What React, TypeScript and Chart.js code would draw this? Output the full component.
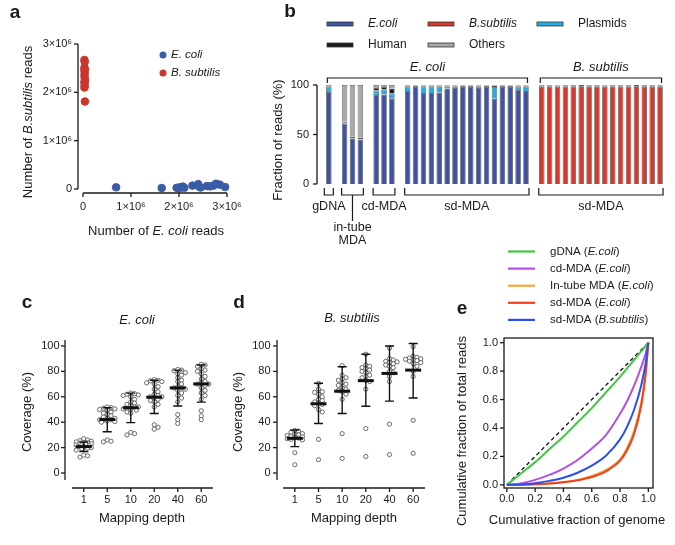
import React, { useEffect, useRef } from 'react';
import { Chart, registerables } from 'chart.js';

Chart.register(...registerables);

const W = 675;
const H = 545;
const FONT = '"Liberation Sans", Arial, Helvetica, sans-serif';
const INK = '#1a1a1a';

/* ---------------- panel a (values in millions of reads) ---------------- */
const aEcoliX = [0.69, 1.64, 1.95, 2.0, 2.02, 2.08, 2.11, 2.28, 2.4, 2.42, 2.45, 2.58, 2.65, 2.72, 2.77, 2.85, 2.96];
const aEcoliY = [0.035, 0.02, 0.025, 0.015, 0.035, 0.05, 0.025, 0.07, 0.1, 0.05, 0.03, 0.06, 0.055, 0.07, 0.11, 0.09, 0.04];
const aBsubX = [0.03, 0.035, 0.03, 0.04, 0.03, 0.035, 0.03, 0.04, 0.035, 0.03, 0.035, 0.03, 0.04];
const aBsubY = [2.67, 2.63, 2.51, 2.47, 2.45, 2.39, 2.33, 2.27, 2.23, 2.2, 2.14, 2.1, 1.81];
const aTickValues = [0, 1, 2, 3];
const aTickLabels = ['0', '1×10⁶', '2×10⁶', '3×10⁶'];

/* ---------------- panel b (percent of reads per library) ---------------- */
const bGroupSizes = [1, 3, 3, 16, 16];
const bGroupLabels = ['gDNA', 'in-tube|MDA', 'cd-MDA', 'sd-MDA', 'sd-MDA'];
const bEcoli = [93, 61, 46, 45, 90, 90.5, 86.5,
  94, 98, 92, 92, 92.5, 96.5, 97, 98, 98, 97, 98, 86, 98, 98, 95, 94,
  0, 0, 0, 0, 0, 0, 0, 0, 0, 0, 0, 0, 0, 0, 0, 0];
const bBsub = [0, 0, 0, 0, 0, 0, 0,
  0, 0, 0, 0, 0, 0, 0, 0, 0, 0, 0, 0, 0, 0, 0, 0,
  98.5, 98.6, 98.4, 98.6, 98.5, 98.7, 98.5, 98.6, 98.4, 98.6, 98.5, 98.6, 98.7, 98.5, 98.6, 98.5];
const bPlasmids = [5.5, 0.8, 0.3, 0.3, 4.5, 5, 5,
  4.5, 0.3, 6.5, 6.5, 6, 2, 1.5, 0.3, 0.3, 1.5, 0.3, 12, 0.3, 0.3, 3.5, 4.5,
  0, 0, 0, 0, 0, 0, 0, 0, 0, 0, 0, 0, 0, 0, 0, 0];
const bHuman = [0.5, 1.2, 1.5, 1.5, 2.5, 2.5, 5,
  1, 1.2, 1, 1, 1, 1, 1, 1.2, 1.2, 1, 1.2, 1.5, 1.2, 1.2, 1, 1,
  1.2, 1.2, 1.2, 1.2, 1.2, 1.2, 1.2, 1.2, 1.2, 1.2, 1.2, 1.2, 1.2, 1.2, 1.2, 1.2];
const bOthers = [1, 37, 52.2, 53.2, 3, 2, 3.5,
  0.5, 0.5, 0.5, 0.5, 0.5, 0.5, 0.5, 0.5, 0.5, 0.5, 0.5, 0.5, 0.5, 0.5, 0.5, 0.5,
  0.3, 0.2, 0.4, 0.2, 0.3, 0.1, 0.3, 0.2, 0.4, 0.2, 0.3, 0.2, 0.1, 0.3, 0.2, 0.3];
const bTickValues = [0, 50, 100];

/* ---------------- panels c, d (coverage %) ---------------- */
const depthLabels = ['1', '5', '10', '20', '40', '60'];
const covTicks = [0, 20, 40, 60, 80, 100];
const cPoints = [
  [27, 26, 25.5, 25, 24.5, 24, 24, 23.5, 23, 22.5, 22, 22, 21.5, 21, 20.5, 20, 19.5, 19, 18, 14, 13.5, 12.5],
  [52, 51.5, 51, 50.5, 50, 49.5, 48, 47, 46, 45, 44, 43, 43, 42, 42, 41.5, 41, 40.5, 40, 26, 25, 24.5],
  [63, 62.5, 62, 61.5, 61, 60, 58, 56, 55, 54, 53, 52, 52, 51, 50.5, 50, 49.5, 48, 47, 32, 31, 30],
  [73.5, 73, 72.5, 72, 71, 70, 68, 66, 64, 62, 61, 60, 60, 59, 58, 57, 56, 54, 52, 38, 36, 34.5],
  [81.5, 81, 80.5, 79, 78, 77, 75, 73, 72, 70, 68, 67, 67, 66, 65, 63, 61, 59, 56, 46, 42, 39],
  [85.5, 85, 84, 82, 81, 80, 78, 76, 74, 72, 71, 70, 70, 69, 67, 65, 63, 61, 58, 49, 45, 42],
];
const cMean = [20.8, 42.1, 51.4, 59.7, 67, 70.1];
const cLow = [16.9, 32.5, 39.7, 46.8, 52.7, 55.8];
const cHigh = [24.4, 51.4, 62.9, 73, 81, 85];
const dPoints = [
  [33.5, 33, 32, 31, 30.5, 30, 29.5, 29, 28.5, 28, 27.5, 27, 26.5, 26, 16, 6.5],
  [70.5, 66, 64, 63.5, 62, 60, 58, 57, 56, 55, 54, 53, 50, 48, 26.5, 10.5],
  [84.5, 77, 75, 74, 73, 71, 70, 69, 67, 66, 65, 64, 62, 58, 31, 11.5],
  [93.5, 85, 84, 83, 82, 81, 80, 79, 77, 76, 75, 73, 72, 66, 35, 13],
  [98.5, 90, 89, 88, 87.5, 87, 86, 85, 84, 83, 80, 79, 76, 72, 38.5, 14.5],
  [99.5, 92, 91, 90.5, 90, 89.5, 89, 88.5, 88, 87, 86, 84, 80, 76, 41.5, 15.5],
];
const dMean = [27.3, 54.5, 64.4, 72.7, 78.4, 81];
const dLow = [20.8, 39, 46.8, 52.5, 56.6, 59];
const dHigh = [33.8, 70.6, 83.6, 93.5, 100, 102];

/* ---------------- panel e (Lorenz curves) ---------------- */
const eX = [0, 0.1, 0.2, 0.3, 0.4, 0.5, 0.6, 0.7, 0.8, 0.85, 0.9, 0.95, 0.98, 1.0];
const eGDNA = [0, 0.08, 0.16, 0.25, 0.34, 0.44, 0.54, 0.65, 0.76, 0.82, 0.88, 0.94, 0.975, 1];
const eCdMDA = [0, 0.01, 0.035, 0.07, 0.115, 0.175, 0.255, 0.35, 0.5, 0.59, 0.7, 0.83, 0.92, 1];
const eInTube = [0, 0.001, 0.004, 0.01, 0.02, 0.035, 0.062, 0.105, 0.18, 0.26, 0.38, 0.58, 0.78, 1];
const eSdEcoli = [0, 0.001, 0.004, 0.009, 0.018, 0.032, 0.055, 0.095, 0.17, 0.245, 0.36, 0.56, 0.77, 1];
const eSdBsub = [0, 0.003, 0.012, 0.028, 0.05, 0.085, 0.135, 0.205, 0.32, 0.41, 0.53, 0.7, 0.85, 1];
const eDiagX = [0, 1];
const eDiagY = [0, 1];
const eTicks = [0, 0.2, 0.4, 0.6, 0.8, 1.0];

/* ---------------- helpers ---------------- */
type Seg = [string, boolean?];
type Align = 'left' | 'center' | 'right';

function rich(ctx: CanvasRenderingContext2D, segs: Seg[], x: number, y: number, size: number,
  align: Align = 'center', rot = 0, bold = false, color = INK) {
  ctx.save();
  ctx.translate(x, y);
  if (rot) ctx.rotate(rot);
  ctx.fillStyle = color;
  ctx.textBaseline = 'middle';
  ctx.textAlign = 'left';
  const fonts = segs.map((s) => `${s[1] ? 'italic ' : ''}${bold ? 'bold ' : ''}${size}px ${FONT}`);
  const widths = segs.map((s, i) => { ctx.font = fonts[i]; return ctx.measureText(s[0]).width; });
  const total = widths.reduce((a, b) => a + b, 0);
  let cx = align === 'center' ? -total / 2 : align === 'right' ? -total : 0;
  segs.forEach((s, i) => { ctx.font = fonts[i]; ctx.fillText(s[0], cx, 0); cx += widths[i]; });
  ctx.restore();
}

type TextItem = { s: Seg[]; x: number; y: number; size: number; align?: Align; rot?: number; bold?: boolean };

function textPlugin(items: TextItem[], extra?: (chart: any) => void) {
  return {
    id: 'texts',
    afterDraw(chart: any) {
      if (extra) extra(chart);
      items.forEach((t) => rich(chart.ctx, t.s, t.x, t.y, t.size, t.align || 'center', t.rot || 0, !!t.bold));
    },
  };
}

type AxisSpec = { gap: number; from: number; to: number; ticks: number[] };
function axesPlugin(spec: { x?: AxisSpec; y?: AxisSpec; frame?: boolean }) {
  return {
    id: 'gpAxes',
    afterDraw(chart: any) {
      const ctx = chart.ctx as CanvasRenderingContext2D;
      const ca = chart.chartArea;
      const xs = chart.scales.x;
      const ys = chart.scales.y;
      ctx.save();
      ctx.strokeStyle = INK;
      ctx.lineWidth = 1.3;
      const seg = (x1: number, y1: number, x2: number, y2: number) => {
        ctx.beginPath(); ctx.moveTo(x1, y1); ctx.lineTo(x2, y2); ctx.stroke();
      };
      if (spec.frame) ctx.strokeRect(ca.left, ca.top, ca.right - ca.left, ca.bottom - ca.top);
      if (spec.y) {
        const X = ca.left - spec.y.gap;
        if (!spec.frame) seg(X, ys.getPixelForValue(spec.y.from), X, ys.getPixelForValue(spec.y.to));
        spec.y.ticks.forEach((v) => { const p = ys.getPixelForValue(v); seg(X, p, X - 4, p); });
      }
      if (spec.x) {
        const Y = ca.bottom + spec.x.gap;
        if (!spec.frame) seg(xs.getPixelForValue(spec.x.from), Y, xs.getPixelForValue(spec.x.to), Y);
        spec.x.ticks.forEach((v) => { const p = xs.getPixelForValue(v); seg(p, Y, p, Y + 4); });
      }
      ctx.restore();
    },
  };
}

function lin(axis: 'x' | 'y', min: number, max: number, ticks: number[], label: (v: number) => string,
  pad: number, size: number, fontSize = 11) {
  return {
    type: 'linear',
    min,
    max,
    afterBuildTicks: (s: any) => { s.ticks = ticks.map((v) => ({ value: v })); },
    afterFit: (s: any) => { if (axis === 'y') s.width = size; else s.height = size; },
    grid: { display: false, drawTicks: false },
    border: { display: false },
    ticks: {
      padding: pad, autoSkip: false, maxRotation: 0, minRotation: 0, color: INK,
      font: { family: FONT, size: fontSize },
      callback: (v: any) => label(Number(v)),
    },
  };
}

function base(ca: { l: number; t: number; r: number; b: number }, yw: number, xh: number) {
  return {
    responsive: false,
    animation: false,
    events: [],
    layout: { autoPadding: false, padding: { left: ca.l - yw, top: ca.t, right: W - ca.r, bottom: H - ca.b - xh } },
    plugins: { legend: { display: false }, tooltip: { enabled: false } },
  };
}

// deterministic beeswarm layout: horizontal offsets (in x units) so that markers do not pile up
function swarm(vals: number[], ky: number, kx: number, d: number, maxPx: number): number[] {
  const order = vals.map((_, i) => i).sort((a, b) => vals[b] - vals[a]);
  const placed: [number, number][] = [];
  const off = vals.map(() => 0);
  for (const i of order) {
    const py = vals[i] * ky;
    let best = 0;
    let bestScore = Infinity;
    for (let k = 0; k < 40; k++) {
      const px = (k % 2 === 1 ? 1 : -1) * Math.ceil(k / 2) * d * 0.5;
      if (Math.abs(px) > maxPx) break;
      const minD = placed.reduce((m, [qx, qy]) => Math.min(m, Math.hypot(qx - px, qy - py)), Infinity);
      if (minD >= d) { best = px; bestScore = -1; break; }
      const score = -minD;
      if (score < bestScore) { bestScore = score; best = px; }
    }
    placed.push([best, py]);
    off[i] = best / kx;
  }
  return off;
}

/* ---------------- panel builders ---------------- */
const BLUE_A = '#3a5ca6';
const RED_A = '#c9362c';

function buildA(canvas: HTMLCanvasElement) {
  const ca = { l: 83, t: 44, r: 227, b: 189 };
  const lab = (v: number) => aTickLabels[aTickValues.indexOf(v)] ?? '';
  return new Chart(canvas, {
    type: 'scatter',
    data: {
      datasets: [
        { data: aEcoliX.map((x, i) => ({ x, y: aEcoliY[i] })), backgroundColor: BLUE_A, borderColor: BLUE_A, pointRadius: 3.8, clip: false },
        { data: aBsubX.map((x, i) => ({ x, y: aBsubY[i] })), backgroundColor: RED_A, borderColor: RED_A, pointRadius: 3.8, clip: false },
      ],
    },
    options: {
      ...base(ca, 60, 30),
      scales: {
        x: lin('x', 0, 3, aTickValues, lab, 11, 30),
        y: lin('y', 0, 3, aTickValues, lab, 11, 60),
      },
    } as any,
    plugins: [
      axesPlugin({ y: { gap: 5, from: 0, to: 3, ticks: aTickValues }, x: { gap: 4, from: 0, to: 3, ticks: aTickValues } }),
      textPlugin([
        { s: [['a']], x: 15, y: 13, size: 19, bold: true },
        { s: [['Number of '], ['B.subtilis', true], [' reads']], x: 28, y: 122, size: 13, rot: -Math.PI / 2 },
        { s: [['Number of '], ['E. coli', true], [' reads']], x: 156, y: 231, size: 13 },
        { s: [['E. coli', true]], x: 171, y: 55, size: 11.5, align: 'left' },
        { s: [['B. subtilis', true]], x: 171, y: 73, size: 11.5, align: 'left' },
      ], (chart) => {
        const ctx = chart.ctx;
        [[55, BLUE_A], [73, RED_A]].forEach(([y, c]) => {
          ctx.save(); ctx.fillStyle = c as string; ctx.beginPath(); ctx.arc(163, y as number, 3.5, 0, Math.PI * 2); ctx.fill(); ctx.restore();
        });
      }) as any,
    ],
  } as any);
}

const B_COLORS = { ecoli: '#4053a2', bsub: '#d33b2c', plasmid: '#26ade4', human: '#1c1c1c', others: '#a8a8a8' };

function buildB(canvas: HTMLCanvasElement) {
  const ca = { l: 317, t: 85, r: 664, b: 184 };
  const slots: number[] = [];
  const ranges: [number, number][] = [];
  let s = 1;
  bGroupSizes.forEach((n) => {
    const st = s;
    for (let k = 0; k < n; k++) slots.push(s++);
    ranges.push([st, s - 1]);
    s++;
  });
  const nSlots = slots[slots.length - 1] + 1;
  const labels = Array.from({ length: nSlots }, (_, i) => String(i));
  const place = (vals: number[]) => {
    const out: (number | null)[] = labels.map(() => null);
    vals.forEach((v, i) => { out[slots[i]] = v; });
    return out;
  };
  const ds = (data: number[], color: string) => ({
    data: place(data), backgroundColor: color, borderColor: 'rgba(60,60,60,0.85)', borderWidth: 0.8,
    barPercentage: 0.7, categoryPercentage: 1.0,
  });
  const legend: { s: Seg[]; c: string; x: number; y: number }[] = [
    { s: [['E.coli', true]], c: B_COLORS.ecoli, x: 327, y: 24 },
    { s: [['B.subtilis', true]], c: B_COLORS.bsub, x: 428, y: 24 },
    { s: [['Plasmids']], c: B_COLORS.plasmid, x: 537, y: 24 },
    { s: [['Human']], c: B_COLORS.human, x: 327, y: 45 },
    { s: [['Others']], c: B_COLORS.others, x: 428, y: 45 },
  ];
  const decor = (chart: any) => {
    const ctx = chart.ctx as CanvasRenderingContext2D;
    const xs = chart.scales.x;
    const px = (i: number) => xs.getPixelForValue(i);
    ctx.save();
    legend.forEach((l) => {
      ctx.fillStyle = l.c; ctx.fillRect(l.x, l.y - 2, 26, 4);
      ctx.strokeStyle = '#333'; ctx.lineWidth = 0.8; ctx.strokeRect(l.x, l.y - 2, 26, 4);
      rich(ctx, l.s, l.x + 41, l.y, 12, 'left');
    });
    ctx.strokeStyle = INK; ctx.lineWidth = 1.2;
    const line = (pts: number[][]) => {
      ctx.beginPath(); ctx.moveTo(pts[0][0], pts[0][1]);
      for (let i = 1; i < pts.length; i++) ctx.lineTo(pts[i][0], pts[i][1]);
      ctx.stroke();
    };
    const topGroups: [number, number, Seg[]][] = [
      [ranges[0][0], ranges[3][1], [['E. coli', true]]],
      [ranges[4][0], ranges[4][1], [['B. subtilis', true]]],
    ];
    topGroups.forEach(([a, b, lab]) => {
      const x1 = px(a) - 1.5, x2 = px(b) + 1.5;
      line([[x1, 83], [x1, 78], [x2, 78], [x2, 83]]);
      rich(ctx, lab, (x1 + x2) / 2, 67, 13);
    });
    ranges.forEach(([a, b], g) => {
      const hw = a === b ? 4.5 : 3;
      const x1 = px(a) - hw, x2 = px(b) + hw;
      line([[x1, 188], [x1, 195], [x2, 195], [x2, 188]]);
      const cx = (x1 + x2) / 2;
      const parts = bGroupLabels[g].split('|');
      if (parts.length > 1) {
        line([[cx, 195], [cx, 221]]);
        rich(ctx, [[parts[0]]], cx, 228, 12.5);
        rich(ctx, [[parts[1]]], cx, 241, 12.5);
      } else {
        rich(ctx, [[parts[0]]], cx, 207, 12.5);
      }
    });
    ctx.restore();
  };
  return new Chart(canvas, {
    type: 'bar',
    data: {
      labels,
      datasets: [
        ds(bEcoli, B_COLORS.ecoli),
        ds(bBsub, B_COLORS.bsub),
        ds(bPlasmids, B_COLORS.plasmid),
        ds(bHuman, B_COLORS.human),
        ds(bOthers, B_COLORS.others),
      ],
    },
    options: {
      ...base(ca, 40, 0),
      scales: {
        x: { type: 'category', stacked: true, display: false },
        y: { ...lin('y', 0, 100, bTickValues, (v) => String(v), 8, 40), stacked: true },
      },
    } as any,
    plugins: [
      axesPlugin({ y: { gap: 0, from: 0, to: 100, ticks: bTickValues } }),
      textPlugin([
        { s: [['b']], x: 290, y: 12, size: 19, bold: true },
        { s: [['Fraction of reads (%)']], x: 278, y: 140, size: 13, rot: -Math.PI / 2 },
      ], decor) as any,
    ],
  } as any);
}

const COV_MIN = -5.5;
const COV_MAX = 104.7;

function buildCov(canvas: HTMLCanvasElement, pts: number[][], mean: number[], lo: number[], hi: number[],
  ca: { l: number; t: number; r: number; b: number }, ygap: number, texts: TextItem[]) {
  const ky = (ca.b - ca.t) / (COV_MAX - COV_MIN);
  const kx = (ca.r - ca.l) / 6;
  const data: { x: number; y: number }[] = [];
  pts.forEach((vals, i) => {
    const off = swarm(vals, ky, kx, 3.8, 9);
    vals.forEach((v, k) => data.push({ x: i + off[k], y: v }));
  });
  const idx = [0, 1, 2, 3, 4, 5];
  const errPlugin = {
    id: 'errbars',
    afterDatasetsDraw(chart: any) {
      const ctx = chart.ctx as CanvasRenderingContext2D;
      const xs = chart.scales.x, ys = chart.scales.y;
      ctx.save();
      ctx.strokeStyle = '#111';
      idx.forEach((i) => {
        const x = xs.getPixelForValue(i);
        const yl = ys.getPixelForValue(lo[i]), yh = ys.getPixelForValue(hi[i]), ym = ys.getPixelForValue(mean[i]);
        ctx.lineWidth = 1.4;
        ctx.beginPath();
        ctx.moveTo(x, yl); ctx.lineTo(x, yh);
        ctx.moveTo(x - 4.5, yl); ctx.lineTo(x + 4.5, yl);
        ctx.moveTo(x - 4.5, yh); ctx.lineTo(x + 4.5, yh);
        ctx.stroke();
        ctx.lineWidth = 3;
        ctx.beginPath(); ctx.moveTo(x - 8, ym); ctx.lineTo(x + 8, ym); ctx.stroke();
      });
      ctx.restore();
    },
  };
  return new Chart(canvas, {
    type: 'scatter',
    data: {
      datasets: [{
        data, pointRadius: 2.1, borderWidth: 0.9, borderColor: '#5a5a5a', backgroundColor: '#ffffff', clip: false,
      }],
    },
    options: {
      ...base(ca, 50, 30),
      scales: {
        x: lin('x', -0.5, 5.5, idx, (v) => depthLabels[v] ?? '', 13, 30),
        y: lin('y', COV_MIN, COV_MAX, covTicks, (v) => String(v), 12.5, 50),
      },
    } as any,
    plugins: [
      errPlugin as any,
      axesPlugin({ y: { gap: ygap, from: COV_MIN, to: COV_MAX, ticks: covTicks }, x: { gap: 8, from: -0.5, to: 5.5, ticks: idx } }),
      textPlugin(texts) as any,
    ],
  } as any);
}

const E_SERIES = [
  { s: [['gDNA ('], ['E.coli', true], [')']] as Seg[], color: '#45c545', data: eGDNA },
  { s: [['cd-MDA ('], ['E.coli', true], [')']] as Seg[], color: '#b34fe6', data: eCdMDA },
  { s: [['In-tube MDA ('], ['E.coli', true], [')']] as Seg[], color: '#f6a23a', data: eInTube },
  { s: [['sd-MDA ('], ['E.coli', true], [')']] as Seg[], color: '#f0401c', data: eSdEcoli },
  { s: [['sd-MDA ('], ['B.subtilis', true], [')']] as Seg[], color: '#2a4ff0', data: eSdBsub },
];

function buildE(canvas: HTMLCanvasElement) {
  const ca = { l: 504, t: 338, r: 653, b: 488 };
  const xmin = -0.02, xmax = 1.033, ymin = -0.022, ymax = 1.033;
  const fmt = (v: number) => v.toFixed(1);
  const lineDs = E_SERIES.map((se) => ({
    data: eX.map((x, i) => ({ x, y: se.data[i] })), borderColor: se.color, borderWidth: 2,
    pointRadius: 0, cubicInterpolationMode: 'monotone', fill: false,
  }));
  const legendDecor = (chart: any) => {
    const ctx = chart.ctx as CanvasRenderingContext2D;
    ctx.save();
    E_SERIES.forEach((se, i) => {
      const y = 251.5 + i * 17.1;
      ctx.strokeStyle = se.color; ctx.lineWidth = 2.2;
      ctx.beginPath(); ctx.moveTo(508, y); ctx.lineTo(535, y); ctx.stroke();
      rich(ctx, se.s, 550, y, 11.5, 'left');
    });
    ctx.restore();
  };
  return new Chart(canvas, {
    type: 'line',
    data: {
      datasets: [
        lineDs[4], lineDs[3], lineDs[2], lineDs[1], lineDs[0],
        {
          data: eDiagX.map((x, i) => ({ x, y: eDiagY[i] })), borderColor: '#111', borderWidth: 1.3,
          borderDash: [4, 3], pointRadius: 0, fill: false,
        },
      ],
    },
    options: {
      ...base(ca, 50, 30),
      scales: {
        x: lin('x', xmin, xmax, eTicks, fmt, 4, 30),
        y: lin('y', ymin, ymax, eTicks, fmt, 6, 50),
      },
    } as any,
    plugins: [
      axesPlugin({ frame: true, y: { gap: 0, from: 0, to: 1, ticks: eTicks }, x: { gap: 0, from: 0, to: 1, ticks: eTicks } }),
      textPlugin([
        { s: [['e']], x: 462, y: 309, size: 19, bold: true },
        { s: [['Cumulative fraction of total reads']], x: 462, y: 431, size: 13, rot: -Math.PI / 2 },
        { s: [['Cumulative fraction of genome']], x: 577, y: 520, size: 13 },
      ], legendDecor) as any,
    ],
  } as any);
}

export default function App() {
  const r0 = useRef<HTMLCanvasElement>(null);
  const r1 = useRef<HTMLCanvasElement>(null);
  const r2 = useRef<HTMLCanvasElement>(null);
  const r3 = useRef<HTMLCanvasElement>(null);
  const r4 = useRef<HTMLCanvasElement>(null);
  const refs = [r0, r1, r2, r3, r4];

  useEffect(() => {
    const charts = [
      buildA(r0.current!),
      buildB(r1.current!),
      buildCov(r2.current!, cPoints, cMean, cLow, cHigh, { l: 72, t: 340, r: 213, b: 480 }, 7, [
        { s: [['c']], x: 27, y: 303, size: 19, bold: true },
        { s: [['E. coli', true]], x: 137, y: 320, size: 13 },
        { s: [['Coverage (%)']], x: 27, y: 412, size: 13, rot: -Math.PI / 2 },
        { s: [['Mapping depth']], x: 142, y: 518, size: 13 },
      ]),
      buildCov(r3.current!, dPoints, dMean, dLow, dHigh, { l: 283, t: 340, r: 425, b: 480 }, 6, [
        { s: [['d']], x: 239, y: 303, size: 19, bold: true },
        { s: [['B. subtilis', true]], x: 352, y: 318, size: 13 },
        { s: [['Coverage (%)']], x: 238, y: 412, size: 13, rot: -Math.PI / 2 },
        { s: [['Mapping depth']], x: 354, y: 518, size: 13 },
      ]),
      buildE(r4.current!),
    ];
    return () => charts.forEach((c) => c.destroy());
  }, []);

  return (
    <div style={{ position: 'absolute', left: 0, top: 0, width: W, height: H, background: '#ffffff' }}>
      {refs.map((r, i) => (
        <canvas key={i} ref={r} width={W} height={H} style={{ position: 'absolute', left: 0, top: 0 }} />
      ))}
    </div>
  );
}
